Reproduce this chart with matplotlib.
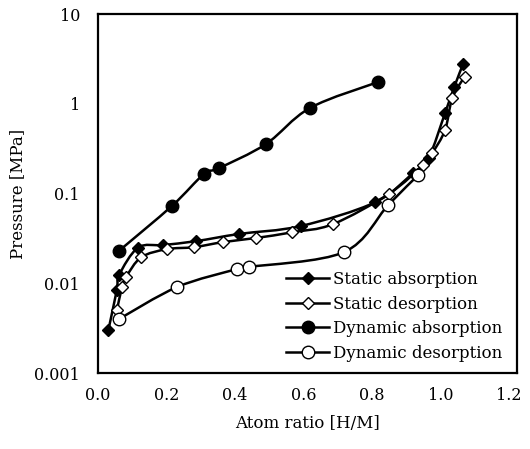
import numpy as np
import matplotlib
matplotlib.use("Agg")
import matplotlib.pyplot as plt
from matplotlib.path import Path
from matplotlib.patches import PathPatch
from matplotlib.lines import Line2D

plt.rcParams['font.family'] = ['DejaVu Serif']

# Static absorption (filled diamonds)
sa_x = [0.03, 0.055, 0.062, 0.117, 0.19, 0.286, 0.412, 0.592, 0.809, 0.92, 0.965, 1.013, 1.04, 1.066]
sa_p = [0.003, 0.0085, 0.0125, 0.025, 0.0267, 0.0295, 0.0355, 0.0435, 0.08, 0.17, 0.25, 0.79, 1.55, 2.8]

# Static desorption (open diamonds)
sd_x = [0.055, 0.07, 0.082, 0.126, 0.2, 0.28, 0.365, 0.461, 0.566, 0.686, 0.85, 0.95, 0.975, 1.013, 1.034, 1.07]
sd_p = [0.005, 0.0091, 0.0118, 0.0195, 0.024, 0.0253, 0.0288, 0.032, 0.037, 0.0457, 0.1, 0.21, 0.28, 0.51, 1.16, 2.0]

# Dynamic absorption (filled circles)
da_x = [0.061, 0.216, 0.309, 0.353, 0.49, 0.619, 0.818]
da_p = [0.023, 0.073, 0.165, 0.192, 0.356, 0.9, 1.75]

# Dynamic desorption (open circles)
dd_x = [0.061, 0.231, 0.405, 0.44, 0.718, 0.847, 0.934]
dd_p = [0.004, 0.0091, 0.0144, 0.0152, 0.0223, 0.0745, 0.16]


def smooth_path(x, y):
    # Catmull-Rom curve through the points, in (x, log y) space
    pts = np.column_stack([np.asarray(x, float), np.log10(y)])
    n = len(pts)
    verts = [pts[0]]
    codes = [Path.MOVETO]
    for i in range(n - 1):
        p0 = pts[max(i - 1, 0)]
        p1 = pts[i]
        p2 = pts[i + 1]
        p3 = pts[min(i + 2, n - 1)]
        verts += [p1 + (p2 - p0) / 6, p2 - (p3 - p1) / 6, p2]
        codes += [Path.CURVE4] * 3
    verts = np.array(verts)
    verts[:, 1] = 10 ** verts[:, 1]
    return Path(verts, codes)


fig = plt.figure(figsize=(5.30, 4.49), dpi=100)
ax = fig.add_axes([0.185, 0.169, 0.7905, 0.7998])

series = [
    (sa_x, sa_p, dict(marker='D', ms=6, mfc='black', mec='black'), 'Static absorption'),
    (sd_x, sd_p, dict(marker='D', ms=6, mfc='white', mec='black', mew=1.0), 'Static desorption'),
    (da_x, da_p, dict(marker='o', ms=9, mfc='black', mec='black'), 'Dynamic absorption'),
    (dd_x, dd_p, dict(marker='o', ms=9, mfc='white', mec='black', mew=1.0), 'Dynamic desorption'),
]

handles = []
for x, p, mk, name in series:
    ax.add_patch(PathPatch(smooth_path(x, p), fill=False, lw=1.8, ec='black'))
    ax.plot(x, p, ls='none', zorder=3, **mk)
    handles.append(Line2D([], [], color='black', lw=1.8, **mk))

ax.set_yscale('log')
ax.set_xlim(0, 1.223)
ax.set_ylim(0.001, 10)
ax.set_xticks([0.0, 0.2, 0.4, 0.6, 0.8, 1.0, 1.2])
ax.set_xticklabels(['0.0', '0.2', '0.4', '0.6', '0.8', '1.0', '1.2'])
ax.set_yticks([0.001, 0.01, 0.1, 1, 10])
ax.set_yticklabels(['0.001', '0.01', '0.1', '1', '10'])
ax.minorticks_off()
ax.tick_params(length=0, labelsize=11.5, pad=13)
ax.tick_params(axis='x', pad=10)
for s in ax.spines.values():
    s.set_linewidth(1.6)

ax.set_xlabel('Atom ratio [H/M]', fontsize=12, labelpad=8)
ax.set_ylabel('Pressure [MPa]', fontsize=12, labelpad=6)

ax.legend(handles, [s[3] for s in series], loc='lower right', frameon=False,
          fontsize=12, handlelength=2.6, handletextpad=0.2, labelspacing=0.45,
          bbox_to_anchor=(1.0, -0.01))

fig.savefig('out.png', dpi=100)
